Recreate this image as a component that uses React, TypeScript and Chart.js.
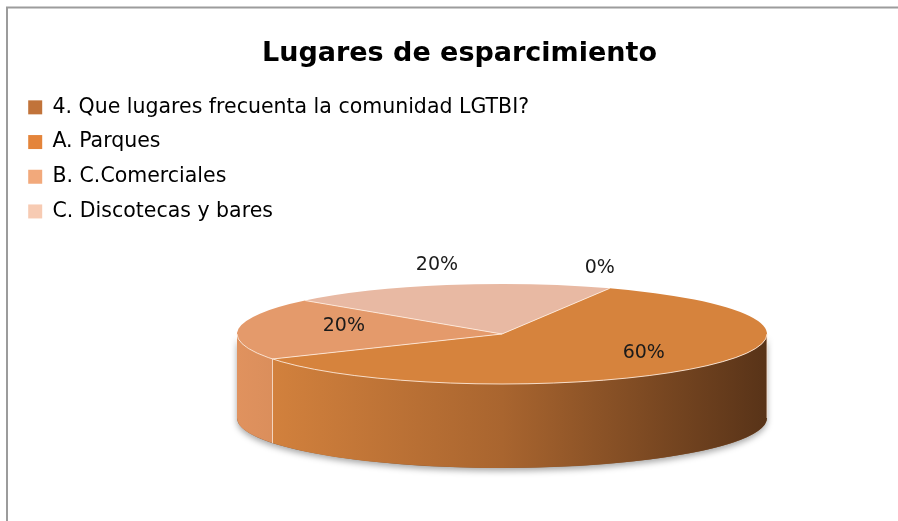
import React, { useEffect, useRef } from "react";
import { Chart, registerables } from "chart.js";

Chart.register(...registerables);

// ---------- data ----------
const TITLE = "Lugares de esparcimiento";
const categories = [
  "4. Que lugares frecuenta la comunidad LGTBI?",
  "A. Parques",
  "B. C.Comerciales",
  "C. Discotecas y bares",
];
const values = [0, 60, 20, 20];
const percentLabels = ["0%", "60%", "20%", "20%"];

// ---------- styles ----------
const legendColors = ["#C1733A", "#E4843A", "#F2A97B", "#F7CBB3"];
const topColors = ["#C1733A", "#D6833D", "#E49A6B", "#E8B9A3"];
const sideLight = ["#C1733A", "#D8853F", "#E0925E", "#E8B9A3"];
const sideMid = ["#9A5C2E", "#A9652F", "#B8774E", "#C4957F"];
const sideDark = ["#5E3719", "#583318", "#6B4127", "#7A5C4E"];

const FONT = "'DejaVu Sans', Verdana, sans-serif";
const CX = 502; // projected centre of the pie top face
const CY = 334;
const RX = 265; // pie radius (horizontal)
const RY = 50; // projected vertical radius
const DEPTH = 84; // thickness of the 3D side
const ROTATION = 24;

function frontSegments(s: number, e: number): [number, number][] {
  const out: [number, number][] = [];
  for (let n = -2; n <= 2; n++) {
    const lo = 2 * Math.PI * n;
    const hi = lo + Math.PI;
    const a0 = Math.max(s, lo);
    const a1 = Math.min(e, hi);
    if (a1 > a0 + 1e-6) out.push([a0, a1]);
  }
  return out;
}

const chromePlugin = {
  id: "chrome",
  beforeDraw(chart: any) {
    const ctx = chart.ctx;
    ctx.save();
    ctx.fillStyle = "#ffffff";
    ctx.fillRect(0, 0, chart.width, chart.height);
    ctx.strokeStyle = "#9C9C9C";
    ctx.lineWidth = 2;
    ctx.beginPath();
    ctx.moveTo(6, 7.5);
    ctx.lineTo(chart.width, 7.5);
    ctx.moveTo(7, 6.5);
    ctx.lineTo(7, chart.height);
    ctx.stroke();
    ctx.restore();
  },
};

const pie3dPlugin = {
  id: "pie3d",
  beforeDatasetsDraw(chart: any) {
    const ctx = chart.ctx;
    const arcs = chart.getDatasetMeta(0).data as any[];
    if (!arcs.length) return;
    const { x, y, outerRadius } = arcs[0].getProps(["x", "y", "outerRadius"], true);
    const r = outerRadius;
    const k = RY / r;

    // soft shadow below the side
    ctx.save();
    ctx.shadowColor = "rgba(0,0,0,0.35)";
    ctx.shadowBlur = 6;
    ctx.shadowOffsetY = 3;
    ctx.fillStyle = "#8a5a34";
    ctx.beginPath();
    ctx.ellipse(CX, CY, r, RY, 0, 0, Math.PI, false);
    ctx.ellipse(CX, CY + DEPTH, r, RY, 0, Math.PI, 0, true);
    ctx.closePath();
    ctx.fill();
    ctx.restore();

    // sides
    ctx.save();
    arcs.forEach((arc: any, i: number) => {
      const p = arc.getProps(["startAngle", "endAngle"], true);
      frontSegments(p.startAngle, p.endAngle).forEach(([a0, a1]) => {
        ctx.beginPath();
        ctx.ellipse(CX, CY, r, RY, 0, a0, a1, false);
        ctx.lineTo(CX + r * Math.cos(a1), CY + RY * Math.sin(a1) + DEPTH);
        ctx.ellipse(CX, CY + DEPTH, r, RY, 0, a1, a0, true);
        ctx.closePath();
        const g = ctx.createLinearGradient(CX - r, 0, CX + r, 0);
        g.addColorStop(0, sideLight[i]);
        g.addColorStop(0.5, sideMid[i]);
        g.addColorStop(1, sideDark[i]);
        ctx.fillStyle = g;
        ctx.fill();
        ctx.strokeStyle = "rgba(255,235,220,0.8)";
        ctx.lineWidth = 1;
        ctx.beginPath();
        ctx.moveTo(CX + r * Math.cos(a0), CY + RY * Math.sin(a0));
        ctx.lineTo(CX + r * Math.cos(a0), CY + RY * Math.sin(a0) + DEPTH);
        ctx.stroke();
      });
    });
    ctx.restore();

    // flatten the library-drawn pie into the top face
    ctx.save();
    ctx.translate(CX, CY);
    ctx.scale(1, k);
    ctx.translate(-x, -y);
  },
  afterDatasetsDraw(chart: any) {
    const ctx = chart.ctx;
    ctx.restore();
    const arcs = chart.getDatasetMeta(0).data as any[];
    if (!arcs.length) return;
    const r = arcs[0].getProps(["outerRadius"], true).outerRadius;

    ctx.save();
    ctx.strokeStyle = "rgba(255,236,222,0.85)";
    ctx.lineWidth = 1;
    arcs.forEach((arc: any, i: number) => {
      if (!values[i]) return;
      const p = arc.getProps(["startAngle"], true);
      ctx.beginPath();
      ctx.moveTo(CX, CY);
      ctx.lineTo(CX + r * Math.cos(p.startAngle), CY + RY * Math.sin(p.startAngle));
      ctx.stroke();
    });
    ctx.beginPath();
    ctx.ellipse(CX, CY, r, RY, 0, 0, Math.PI, false);
    ctx.stroke();

    // data labels
    ctx.fillStyle = "#1a1a1a";
    ctx.font = "19px " + FONT;
    ctx.textAlign = "center";
    ctx.textBaseline = "middle";
    arcs.forEach((arc: any, i: number) => {
      const p = arc.getProps(["startAngle", "endAngle"], true);
      const mid = (p.startAngle + p.endAngle) / 2;
      const s = Math.sin(mid);
      let lx: number, ly: number;
      if (values[i] > 0 && s > -0.5) {
        const f = s > 0 ? 0.72 : 0.6;
        lx = CX + r * f * Math.cos(mid);
        ly = CY + RY * f * s - 5;
      } else {
        lx = CX + r * Math.cos(mid) - 10;
        ly = CY + RY * s - 20;
      }
      ctx.fillText(percentLabels[i], lx, ly);
    });
    ctx.restore();
  },
};

export default function App() {
  const ref = useRef<HTMLCanvasElement>(null);
  useEffect(() => {
    if (!ref.current) return;
    const chart = new Chart(ref.current, {
      type: "pie",
      data: {
        labels: categories,
        datasets: [
          {
            data: values,
            backgroundColor: topColors,
            borderWidth: 0,
            radius: RX,
            clip: false,
          } as any,
        ],
      },
      options: {
        responsive: false,
        animation: false,
        rotation: ROTATION,
        events: [],
        layout: { padding: { top: 8, left: 14, right: -7, bottom: 8 } },
        plugins: {
          tooltip: { enabled: false },
          title: {
            display: true,
            text: TITLE,
            color: "#000000",
            font: { family: FONT, size: 27, weight: "bold" },
            padding: { top: 30, bottom: 12.5 },
          },
          legend: {
            display: true,
            position: "left",
            align: "start",
            fullSize: false,
            maxWidth: 760,
            labels: {
              color: "#1a1a1a",
              font: { family: FONT, size: 20.5 },
              boxWidth: 14,
              boxHeight: 14,
              padding: 14.2,
              generateLabels: () =>
                categories.map((c, i) => ({
                  text: c,
                  fillStyle: legendColors[i],
                  strokeStyle: legendColors[i],
                  lineWidth: 0,
                  hidden: false,
                  index: i,
                })),
            },
          },
        },
      },
      plugins: [chromePlugin, pie3dPlugin],
    });
    return () => chart.destroy();
  }, []);
  return (
    <div style={{ position: "absolute", left: 0, top: 0, width: 898, height: 521 }}>
      <canvas ref={ref} width={898} height={521} style={{ width: 898, height: 521, display: "block" }} />
    </div>
  );
}
